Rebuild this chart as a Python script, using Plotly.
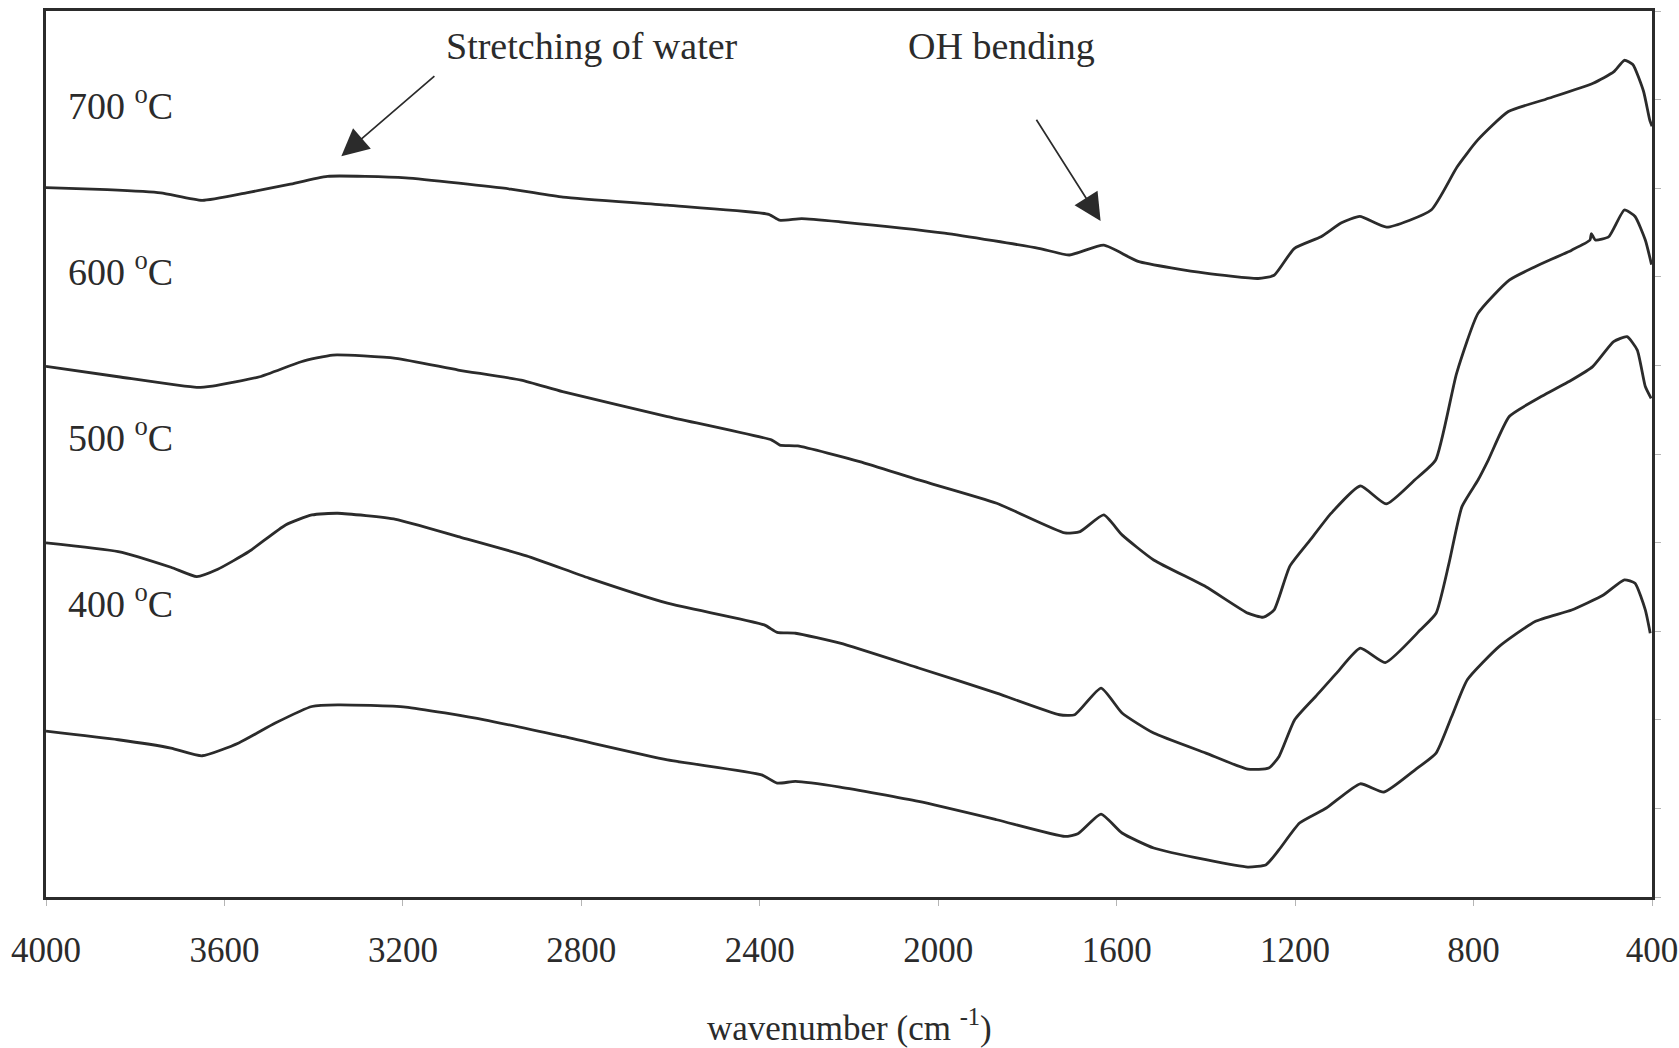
import plotly.graph_objects as go

# FTIR spectra of samples calcined at different temperatures (offset for clarity)
wn_700 = [4000, 3863, 3743, 3650, 3551, 3455, 3369, 3194, 2958, 2841, 2608, 2380, 2356,
          2306, 2220, 1986, 1775, 1706, 1629, 1552, 1401, 1283, 1247, 1202, 1142, 1096,
          1055, 995, 895, 837, 791, 722, 638, 532, 486, 462, 443, 419, 405, 400]
ab_700 = [8.007, 7.983, 7.947, 7.862, 7.947, 8.043, 8.134, 8.116, 7.989, 7.899, 7.808,
          7.705, 7.639, 7.657, 7.621, 7.493, 7.322, 7.246, 7.357, 7.174, 7.041, 6.981,
          7.017, 7.319, 7.452, 7.609, 7.681, 7.560, 7.754, 8.240, 8.542, 8.865, 9.004,
          9.185, 9.312, 9.444, 9.396, 9.094, 8.768, 8.70]

wn_600 = [4000, 3838, 3662, 3627, 3521, 3428, 3357, 3216, 3076, 2935, 2842, 2607, 2373,
          2355, 2315, 2176, 2044, 1869, 1716, 1682, 1629, 1588, 1517, 1400, 1306, 1271,
          1247, 1212, 1166, 1119, 1054, 996, 932, 885, 838, 790, 720, 662, 580, 539, 536,
          527, 497, 462, 438, 415, 401]
ab_600 = [5.990, 5.872, 5.752, 5.767, 5.872, 6.041, 6.117, 6.080, 5.948, 5.834, 5.703,
          5.423, 5.157, 5.101, 5.091, 4.915, 4.707, 4.444, 4.109, 4.124, 4.312, 4.087,
          3.804, 3.502, 3.204, 3.158, 3.240, 3.732, 4.030, 4.332, 4.639, 4.436, 4.707,
          4.932, 5.911, 6.587, 6.963, 7.114, 7.301, 7.415, 7.488, 7.415, 7.452, 7.754,
          7.681, 7.415, 7.138]

wn_500 = [4000, 3838, 3720, 3662, 3615, 3545, 3463, 3404, 3346, 3216, 3076, 2923, 2783,
          2607, 2390, 2361, 2320, 2220, 2044, 1869, 1728, 1694, 1635, 1588, 1517, 1400,
          1306, 1259, 1236, 1201, 1154, 1107, 1054, 998, 919, 884, 855, 826, 790, 767,
          720, 662, 580, 533, 486, 456, 433, 415, 402]
ab_500 = [3.998, 3.899, 3.722, 3.617, 3.699, 3.899, 4.199, 4.312, 4.331, 4.263, 4.068,
          3.850, 3.599, 3.316, 3.071, 2.986, 2.977, 2.865, 2.585, 2.301, 2.057, 2.057,
          2.357, 2.077, 1.850, 1.624, 1.443, 1.455, 1.587, 2.000, 2.263, 2.527, 2.808,
          2.646, 3.016, 3.203, 3.768, 4.406, 4.707, 4.932, 5.423, 5.609, 5.835, 5.986,
          6.268, 6.324, 6.173, 5.761, 5.628]

wn_400 = [4000, 3838, 3720, 3650, 3568, 3486, 3404, 3346, 3194, 3017, 2842, 2607, 2396,
          2361, 2320, 2220, 2044, 1869, 1716, 1687, 1635, 1588, 1517, 1400, 1306, 1265,
          1236, 1190, 1130, 1054, 1001, 931, 884, 849, 814, 743, 662, 580, 509, 462, 438,
          415, 404]
ab_400 = [1.872, 1.775, 1.681, 1.594, 1.739, 1.963, 2.150, 2.169, 2.144, 2.000, 1.812,
          1.548, 1.379, 1.286, 1.304, 1.240, 1.078, 0.872, 0.684, 0.714, 0.936, 0.722,
          0.553, 0.421, 0.338, 0.365, 0.534, 0.835, 1.004, 1.278, 1.185, 1.436, 1.624,
          2.037, 2.452, 2.826, 3.109, 3.240, 3.409, 3.580, 3.541, 3.240, 2.978]

x_ticks = [4000, 3600, 3200, 2800, 2400, 2000, 1600, 1200, 800, 400]

series = [("700", wn_700, ab_700), ("600", wn_600, ab_600),
          ("500", wn_500, ab_500), ("400", wn_400, ab_400)]

# temperature labels: (text, wavenumber, offset level)
temp_labels = [("700 <sup>o</sup>C", 3955, 8.96), ("600 <sup>o</sup>C", 3955, 7.09),
               ("500 <sup>o</sup>C", 3955, 5.22), ("400 <sup>o</sup>C", 3955, 3.34)]

FONT = "Liberation Serif, Times New Roman, serif"
INK = "#2b2b2b"
LABEL_SIZE = 38

fig = go.Figure()
for name, x, y in series:
    fig.add_trace(go.Scatter(
        x=x, y=y, mode="lines", name=name + " °C",
        line=dict(color=INK, width=2.8, shape="spline", smoothing=0.5),
        showlegend=False, hoverinfo="skip"))

for text, x, y in temp_labels:
    fig.add_annotation(x=x, y=y, text=text, showarrow=False, xanchor="left",
                       yanchor="middle", font=dict(family=FONT, size=LABEL_SIZE, color=INK))

# band assignments with arrows
fig.add_annotation(x=2776, y=9.60, text="Stretching of water", showarrow=False,
                   font=dict(family=FONT, size=LABEL_SIZE, color=INK))
fig.add_annotation(x=3338, y=8.36, ax=3126, ay=9.28, axref="x", ayref="y",
                   text="", showarrow=True, arrowhead=2, arrowsize=3.2,
                   arrowwidth=1.7, arrowcolor=INK)
fig.add_annotation(x=1858, y=9.60, text="OH bending", showarrow=False,
                   font=dict(family=FONT, size=LABEL_SIZE, color=INK))
fig.add_annotation(x=1636, y=7.63, ax=1782, ay=8.79, axref="x", ayref="y",
                   text="", showarrow=True, arrowhead=2, arrowsize=3.2,
                   arrowwidth=1.7, arrowcolor=INK)

# x-axis title
fig.add_annotation(x=0.5, y=-0.1445, xref="paper", yref="paper",
                   text="wavenumber (cm <sup>-1</sup>)", showarrow=False,
                   xanchor="center", yanchor="middle",
                   font=dict(family=FONT, size=35, color=INK))

fig.update_layout(
    width=1679, height=1048,
    margin=dict(l=46, r=27, t=11, b=151),
    paper_bgcolor="white", plot_bgcolor="white",
    font=dict(family=FONT, size=35, color=INK),
)
fig.update_xaxes(
    range=[4000, 400], tickvals=x_ticks, ticktext=[str(v) for v in x_ticks],
    showgrid=False, zeroline=False, automargin=False,
    showline=True, linecolor=INK, linewidth=2.5, mirror=True,
    ticks="outside", ticklen=6, tickcolor="#b5b5b5", tickwidth=1,
    ticklabelstandoff=14,
    tickfont=dict(family=FONT, size=35, color=INK),
)
fig.update_yaxes(
    range=[0, 10], dtick=1, side="right", showticklabels=False,
    showgrid=False, zeroline=False, automargin=False,
    showline=True, linecolor=INK, linewidth=2.5, mirror=True,
    ticks="outside", ticklen=6, tickcolor="#b5b5b5", tickwidth=1,
)

fig.write_html("out.html")
